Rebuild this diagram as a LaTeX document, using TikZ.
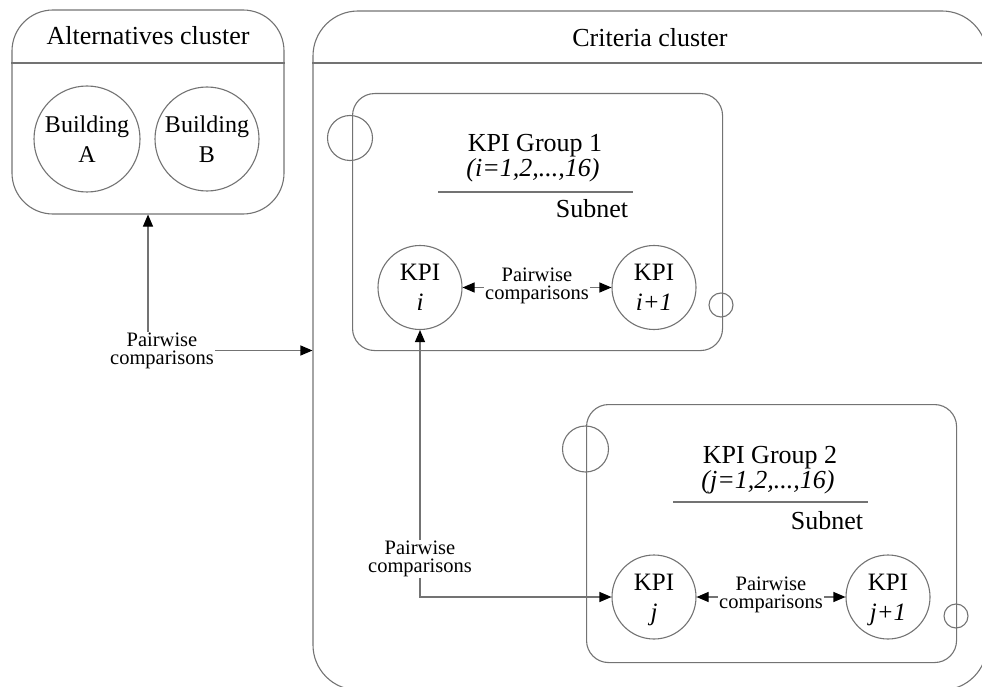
\documentclass[tikz,border=0pt]{standalone}
\usepackage{fontspec}
\setmainfont{Liberation Serif}
\usetikzlibrary{arrows.meta}
\begin{document}
\begin{tikzpicture}[x=1pt,y=-1pt,
  ln/.style={draw=black!55, line width=1.1pt},
  frame/.style={ln, rectangle, inner sep=0pt},
  ring/.style={ln, circle, inner sep=0pt, minimum size=#1},
  titletext/.style={font=\fontsize{26}{30}\selectfont, anchor=base, inner sep=0pt},
  bldtext/.style={align=center, font=\fontsize{24}{30}\selectfont},
  kpitext/.style={align=center, font=\fontsize{25}{30}\selectfont},
  pairlabel/.style={fill=white, inner sep=1pt, align=center, font=\fontsize{20.5}{18}\selectfont},
  biarrow/.style={ln, arrows={Triangle[length=12pt,width=10pt,color=black]-Triangle[length=12pt,width=10pt,color=black]}},
]
\clip (0,0) rectangle (982,687);

% Alternatives cluster
\node[frame, rounded corners=41pt, minimum width=272pt, minimum height=204pt] (alt) at (148,112) {};
\draw[ln] (alt.west |- 0,63) -- (alt.east |- 0,63);
\node[titletext] (alttitle) at (148,45) {Alternatives cluster};
\node[ring=106pt, bldtext] (bldA) at (87,139) {Building\\A};
\node[ring=104pt, bldtext] (bldB) at (207,139) {Building\\B};

% Criteria cluster
\node[frame, rounded corners=45pt, minimum width=674pt, minimum height=679pt] (crit) at (650,350.5) {};
\draw[ln] (crit.west |- 0,63) -- (crit.east |- 0,63);
\node[titletext] (crittitle) at (650,47) {Criteria cluster};

% KPI group 1 subnet
\begin{scope}[shift={(352,93)}]
  \node[frame, rounded corners=22pt, minimum width=370pt, minimum height=257pt, anchor=north west] (sub1) at (0,0) {};
  \node[ring=45pt] (sub1in) at (-2,45) {};
  \node[ring=24pt] (sub1out) at (369,212) {};
  \node[titletext] (g1name) at (183,59) {KPI Group 1};
  \node[titletext] (g1idx) at (181,84) {\itshape (i=1,2,...,16)};
  \draw[ln] (86,99) -- (281,99);
  \node[titletext] (g1sub) at (240,125) {Subnet};
  \node[ring=84pt, kpitext] (kpii) at (68,194.5) {KPI\\\textit{i}};
  \node[ring=84pt, kpitext] (kpii1) at (302,194.5) {KPI\\\textit{i+1}};
\end{scope}

% KPI group 2 subnet
\begin{scope}[shift={(586,404)}]
  \node[frame, rounded corners=22pt, minimum width=370pt, minimum height=258pt, anchor=north west] (sub2) at (0,0) {};
  \node[ring=46pt] (sub2in) at (-0.5,45) {};
  \node[ring=24pt] (sub2out) at (370,212) {};
  \node[titletext] (g2name) at (184,59) {KPI Group 2};
  \node[titletext] (g2idx) at (182,84) {\itshape (j=1,2,...,16)};
  \draw[ln] (87,98) -- (282,98);
  \node[titletext] (g2sub) at (241,125) {Subnet};
  \node[ring=84pt, kpitext] (kpij) at (68,193) {KPI\\\smash{\textit{j}}};
  \node[ring=84pt, kpitext] (kpij1) at (302,193) {KPI\\\smash{\textit{j+1}}};
\end{scope}

% Pairwise comparison connectors
\draw[biarrow] (kpii) -- (kpii1)
  node[pairlabel, midway, yshift=2pt] (pc1) {Pairwise\\comparisons};
\draw[biarrow] (kpij) -- (kpij1)
  node[pairlabel, midway, yshift=2pt] (pc2) {Pairwise\\comparisons};
\draw[biarrow] (kpii.south) |- (kpij.west)
  node[pairlabel, pos=0.429] (pc3) {Pairwise\\comparisons};
\draw[biarrow] (alt.south) |- (crit.west)
  node[pairlabel, pos=0.5, xshift=14pt] (pc4) {Pairwise\\comparisons};
\end{tikzpicture}
\end{document}
